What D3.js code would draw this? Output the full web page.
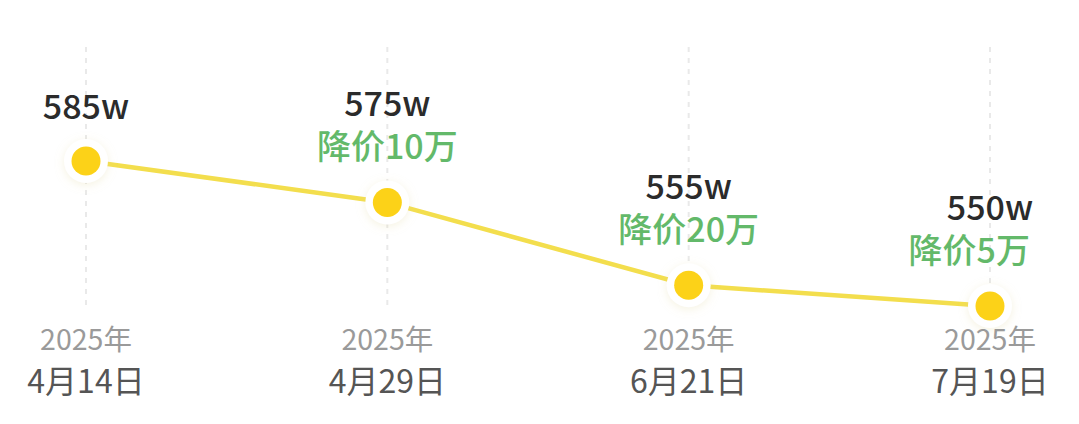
<!DOCTYPE html>
<html>
<head>
<meta charset="utf-8">
<script src="https://cdn.jsdelivr.net/npm/d3@7"></script>
<style>
  html, body { margin: 0; padding: 0; background: #fff; }
  svg { display: block; font-family: "Noto Sans CJK SC", "Noto Sans", sans-serif; }
</style>
</head>
<body>
<svg id="chart" width="1079" height="424"></svg>
<script>
const years = ["2025年", "2025年", "2025年", "2025年"];
const dates = ["4月14日", "4月29日", "6月21日", "7月19日"];
const prices = [585, 575, 555, 550];
const priceLabels = ["585w", "575w", "555w", "550w"];
const dropLabels = ["", "降价10万", "降价20万", "降价5万"];

const W = 1079, H = 424;
const svg = d3.select("#chart");

const x = d3.scalePoint().domain(d3.range(dates.length)).range([86, 990]).padding(0);
const y = d3.scaleLinear().domain([550, 585]).range([306, 161]);

const defs = svg.append("defs");
const f = defs.append("filter").attr("id", "glow")
  .attr("x", "-100%").attr("y", "-100%").attr("width", "300%").attr("height", "300%");
f.append("feDropShadow").attr("dx", 0).attr("dy", 2).attr("stdDeviation", 5)
  .attr("flood-color", "#e0d49a").attr("flood-opacity", 0.3);

// vertical dashed grid lines
svg.append("g").selectAll("line").data(dates).join("line")
  .attr("x1", (d, i) => x(i)).attr("x2", (d, i) => x(i))
  .attr("y1", 47).attr("y2", 306)
  .attr("stroke", "#e9e9e9").attr("stroke-width", 2)
  .attr("stroke-dasharray", "5,6");

// line
svg.append("path")
  .datum(prices)
  .attr("d", d3.line().x((d, i) => x(i)).y(d => y(d)))
  .attr("fill", "none").attr("stroke", "#f3de4d").attr("stroke-width", 4.5);

// halos + dots
const pts = svg.append("g").selectAll("g").data(prices).join("g")
  .attr("transform", (d, i) => `translate(${x(i)},${y(d)})`);
pts.append("circle").attr("r", 22).attr("fill", "#fff").attr("filter", "url(#glow)");
pts.append("circle").attr("r", 14.5).attr("fill", "#fcd218");

// labels
const rightLimit = 1030;
const labels = svg.append("g");
prices.forEach((v, i) => {
  const py = y(v);
  const hasDrop = dropLabels[i] !== "";
  const dropBase = py - 43;
  const priceBase = hasDrop ? dropBase - 43 : py - 42;
  labels.append("text").attr("x", x(i)).attr("y", priceBase)
    .attr("text-anchor", "middle").attr("font-size", 34).attr("font-weight", 500)
    .attr("fill", "#2b2b2b").text(priceLabels[i]);
  if (hasDrop) {
    const t2 = labels.append("text").attr("x", x(i)).attr("y", dropBase)
      .attr("text-anchor", "middle").attr("font-size", 34).attr("font-weight", 500)
      .attr("fill", "#63b96a").text(dropLabels[i]);
    const w = t2.node().getComputedTextLength();
    if (x(i) + w / 2 > rightLimit) t2.attr("x", rightLimit - w / 2);
  }
});

// axis labels
const ax = svg.append("g");
ax.selectAll("text.yr").data(years).join("text").attr("class", "yr")
  .attr("x", (d, i) => x(i)).attr("y", 350)
  .attr("text-anchor", "middle").attr("font-size", 28.5).attr("fill", "#9a9a9a").text(d => d);
ax.selectAll("text.dt").data(dates).join("text").attr("class", "dt")
  .attr("x", (d, i) => x(i)).attr("y", 393)
  .attr("text-anchor", "middle").attr("font-size", 32).attr("fill", "#555").text(d => d);
</script>
</body>
</html>
